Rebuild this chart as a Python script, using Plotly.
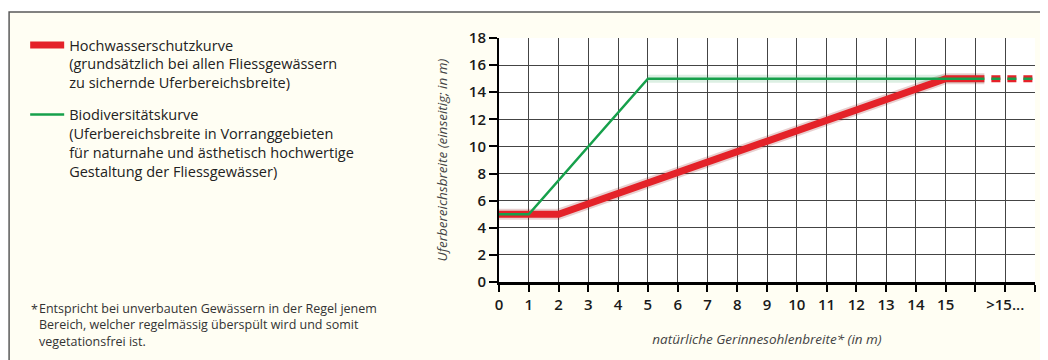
import plotly.graph_objects as go

# Data
hw_x = [0, 2, 15, 16.3]          # Hochwasserschutzkurve (solid part)
hw_y = [5, 5, 15, 15]
bio_x = [0, 1, 5, 16.3]          # Biodiversitätskurve (solid part)
bio_y = [5, 5, 15, 15]
ext_x = [16.3, 18]               # dashed continuation ">15..."
ext_y = [15, 15]

x_ticks = list(range(0, 19))
x_labels = [str(v) for v in range(0, 16)] + ["", ">15...", ""]
y_ticks = list(range(0, 19, 2))

RED = "#E42229"
GREEN = "#16A04B"
FONT = "Open Sans"

hw_name = ("Hochwasserschutzkurve<br>(grundsätzlich bei allen Fliessgewässern"
           "<br>zu sichernde Uferbereichsbreite)")
bio_name = ("Biodiversitätskurve<br>(Uferbereichsbreite in Vorranggebieten"
            "<br>für naturnahe und ästhetisch hochwertige"
            "<br>Gestaltung der Fliessgewässer)")

fig = go.Figure()

# soft halos (shadow look of the original)
fig.add_trace(go.Scatter(x=hw_x, y=hw_y, mode="lines", showlegend=False, hoverinfo="skip",
                         line=dict(color="rgba(140,20,20,0.2)", width=11)))
fig.add_trace(go.Scatter(x=bio_x[2:], y=bio_y[2:], mode="lines", showlegend=False, hoverinfo="skip",
                         line=dict(color="rgba(20,150,70,0.15)", width=8)))

# red curve
fig.add_trace(go.Scatter(x=hw_x, y=hw_y, mode="lines", name=hw_name, legendgroup="hw",
                         line=dict(color=RED, width=7)))
fig.add_trace(go.Scatter(x=ext_x, y=ext_y, mode="lines", showlegend=False, legendgroup="hw",
                         line=dict(color=RED, width=7, dash="0px,7px,9px,0px")))
# green curve
fig.add_trace(go.Scatter(x=bio_x, y=bio_y, mode="lines", name=bio_name, legendgroup="bio",
                         line=dict(color=GREEN, width=2.5)))
fig.add_trace(go.Scatter(x=ext_x, y=ext_y, mode="lines", showlegend=False, legendgroup="bio",
                         line=dict(color=GREEN, width=2.5, dash="0px,7px,9px,0px")))

# cream panel with frame, white plot area
fig.add_shape(type="rect", xref="paper", yref="paper", x0=-0.914, x1=1.2, y0=-0.6, y1=1.1066,
              line=dict(color="#5a5a5a", width=1.5), fillcolor="#FFFEF3", layer="below")
fig.add_shape(type="rect", xref="x", yref="y", x0=0, x1=18, y0=0, y1=18,
              line=dict(width=0), fillcolor="white", layer="below")

# footnote
fig.add_annotation(xref="paper", yref="paper", x=-0.876, y=-0.07, xanchor="left", yanchor="top",
                   text="*", showarrow=False, font=dict(family=FONT, size=12.5, color="#333"))
fig.add_annotation(xref="paper", yref="paper", x=-0.862, y=-0.064, xanchor="left", yanchor="top",
                   align="left", showarrow=False,
                   text=("Entspricht bei unverbauten Gewässern in der Regel jenem"
                         "<br>Bereich, welcher regelmässig überspült wird und somit"
                         "<br>vegetationsfrei ist."),
                   font=dict(family=FONT, size=12.5, color="#333"))

fig.update_layout(
    width=1040, height=352,
    margin=dict(l=491, r=13, t=30, b=78),
    paper_bgcolor="white",
    plot_bgcolor="white",
    font=dict(family=FONT, color="#222"),
    legend=dict(x=-0.884, y=1.037, xanchor="left", yanchor="top", valign="top",
                bgcolor="rgba(0,0,0,0)", font=dict(family=FONT, size=14.5, color="#222"),
                tracegroupgap=10, itemwidth=34),
)

fig.update_xaxes(
    range=[0, 18], tickvals=x_ticks, ticktext=x_labels,
    showgrid=True, gridcolor="#444", gridwidth=1,
    showline=True, linecolor="black", linewidth=2.5,
    ticks="outside", ticklen=7, tickwidth=2, tickcolor="black",
    tickfont=dict(family=FONT, size=15, color="#1a1a1a", weight=600),
    title=dict(text="<i>natürliche Gerinnesohlenbreite* (in m)</i>", standoff=22,
               font=dict(family=FONT, size=13.5, color="#444")),
    zeroline=False,
)
fig.update_yaxes(
    range=[0, 18], tickvals=y_ticks,
    showgrid=True, gridcolor="#444", gridwidth=1,
    showline=True, linecolor="black", linewidth=2,
    ticks="outside", ticklen=8, tickwidth=2, tickcolor="black",
    tickfont=dict(family=FONT, size=15, color="#1a1a1a", weight=600),
    title=dict(text="<i>Uferbereichsbreite (einseitig; in m)</i>", standoff=18,
               font=dict(family=FONT, size=13.5, color="#444")),
    zeroline=False,
)

fig.write_html("out.html")
